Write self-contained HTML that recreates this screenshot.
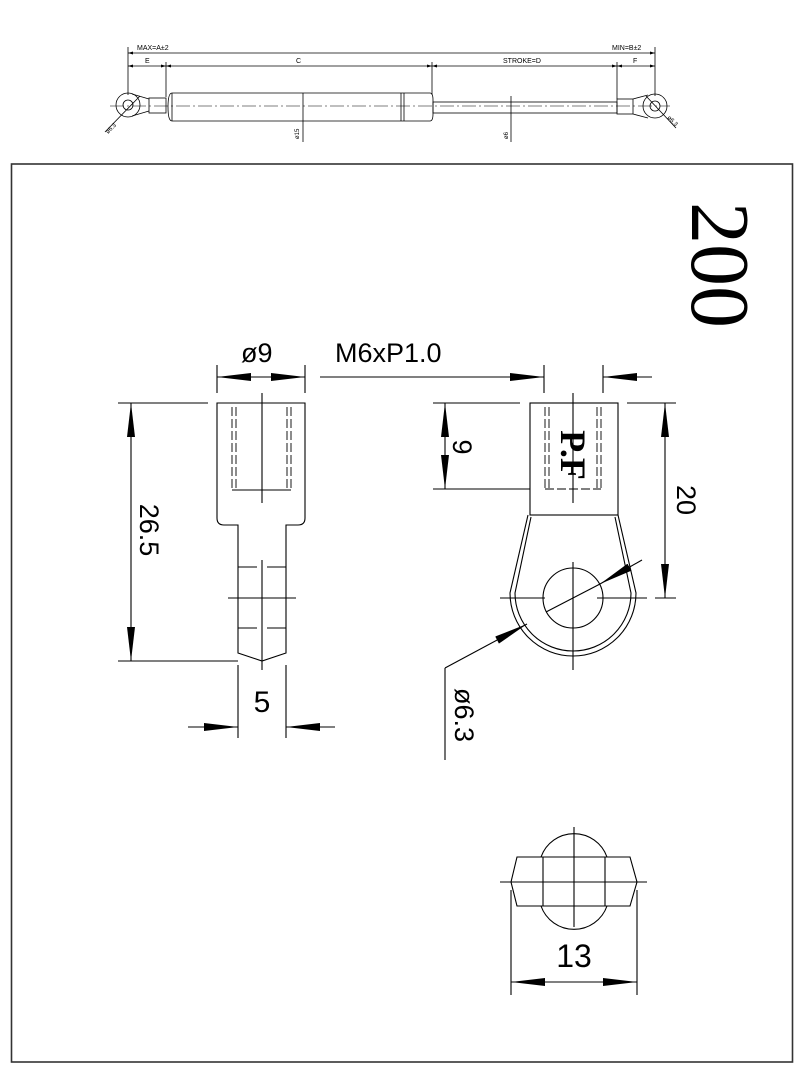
<!DOCTYPE html>
<html><head><meta charset="utf-8"><style>
html,body{margin:0;padding:0;background:#fff;}
svg{display:block;}
text{fill:#000;}
</style></head><body>
<svg width="800" height="1092" viewBox="0 0 800 1092" xmlns="http://www.w3.org/2000/svg" font-family="Liberation Sans, sans-serif">
<defs>
<marker id="s" markerWidth="5" markerHeight="3" refX="5" refY="1.5" orient="auto-start-reverse" markerUnits="userSpaceOnUse"><path d="M0,0 L5,1.5 L0,3 Z" fill="#000"/></marker>
<marker id="b" markerWidth="34" markerHeight="8" refX="34" refY="4" orient="auto-start-reverse" markerUnits="userSpaceOnUse"><path d="M0,0 L34,4 L0,8 Z" fill="#000"/></marker>
</defs>
<g stroke="#000" fill="none" stroke-width="0.8">
<line x1="128" y1="47" x2="128" y2="95"/><line x1="166" y1="62" x2="166" y2="97"/>
<line x1="432" y1="62" x2="432" y2="95"/><line x1="617" y1="62" x2="617" y2="99"/>
<line x1="655" y1="47" x2="655" y2="96"/>
<line x1="128" y1="53" x2="655" y2="53" marker-start="url(#s)" marker-end="url(#s)"/>
<line x1="128" y1="66" x2="166" y2="66" marker-start="url(#s)" marker-end="url(#s)"/>
<line x1="166" y1="66" x2="432" y2="66" marker-start="url(#s)" marker-end="url(#s)"/>
<line x1="432" y1="66" x2="617" y2="66" marker-start="url(#s)" marker-end="url(#s)"/>
<line x1="617" y1="66" x2="655" y2="66" marker-start="url(#s)" marker-end="url(#s)"/>
<circle cx="128" cy="105" r="12"/><circle cx="128" cy="105" r="5"/>
<path d="M132,94 L149,99 M132,116 L149,111"/>
<rect x="149" y="98" width="17" height="15"/>
<path d="M172,93 L430,93 Q433,93 433,100 L433,114 Q433,121 430,121 L172,121 Q168,121 168,107 Q168,93 172,93 Z"/>
<line x1="172" y1="93" x2="172" y2="121"/>
<line x1="401" y1="93" x2="401" y2="121"/><line x1="404" y1="93" x2="404" y2="121"/>
<rect x="433" y="102" width="184" height="11"/>
<rect x="617" y="99" width="16" height="15"/>
<path d="M633,99 L648,95 M633,114 L648,118"/>
<circle cx="655" cy="106" r="12"/><circle cx="655" cy="106" r="5"/>
<line x1="110" y1="106" x2="670" y2="106" stroke-dasharray="14,3,2,3" stroke-width="0.6"/>
<line x1="303" y1="93" x2="303" y2="142"/><line x1="511" y1="96" x2="511" y2="142"/>
<line x1="105" y1="132" x2="140" y2="96"/><line x1="676" y1="128" x2="646" y2="96"/>
<rect x="11.5" y="164" width="781" height="898" stroke-width="1.6" stroke="#333"/>
</g>
<g font-size="7">
<text x="137" y="50">MAX=A±2</text><text x="612" y="50">MIN=B±2</text>
<text x="145" y="63">E</text><text x="296" y="63">C</text><text x="503" y="63">STROKE=D</text><text x="633" y="63">F</text>
<text transform="translate(299,139) rotate(-90)" font-size="6">ø15</text>
<text transform="translate(508,139) rotate(-90)" font-size="6">ø6</text>
<text transform="translate(108,134) rotate(-45)" font-size="6">ø6.3</text>
<text transform="translate(667,118) rotate(45)" font-size="6">ø6.3</text>
</g>

<g stroke="#000" fill="none" stroke-width="1.1">
<line x1="217" y1="365" x2="217" y2="393"/><line x1="305" y1="365" x2="305" y2="393"/>
<line x1="217" y1="377" x2="305" y2="377" marker-start="url(#b)" marker-end="url(#b)"/>
<path d="M217,403 L305,403 L305,518 Q305,525 298,525 L286,525 L286,653 L262,661 L238,653 L238,525 L224,525 Q217,525 217,518 Z"/>
<g stroke-dasharray="9,3" stroke-width="0.9"><line x1="232" y1="407" x2="232" y2="490"/><line x1="236" y1="407" x2="236" y2="490"/><line x1="287" y1="407" x2="287" y2="490"/><line x1="291" y1="407" x2="291" y2="490"/></g>
<line x1="232" y1="490" x2="291" y2="490"/>
<line x1="262" y1="393" x2="262" y2="503"/>
<line x1="238" y1="567" x2="257" y2="567"/><line x1="267" y1="567" x2="286" y2="567"/>
<line x1="228" y1="598" x2="296" y2="598"/>
<line x1="238" y1="628" x2="257" y2="628"/><line x1="267" y1="628" x2="286" y2="628"/>
<line x1="262" y1="560" x2="262" y2="670"/>
<line x1="118" y1="403" x2="208" y2="403"/><line x1="118" y1="661" x2="238" y2="661"/>
<line x1="131" y1="403" x2="131" y2="661" marker-start="url(#b)" marker-end="url(#b)"/>
<line x1="238" y1="665" x2="238" y2="738"/><line x1="286" y1="665" x2="286" y2="738"/>
<line x1="188" y1="727" x2="238" y2="727" marker-end="url(#b)"/>
<line x1="335" y1="727" x2="286" y2="727" marker-end="url(#b)"/>
<line x1="320" y1="377" x2="544" y2="377" marker-end="url(#b)"/>
<line x1="652" y1="377" x2="603" y2="377" marker-end="url(#b)"/>
<line x1="544" y1="365" x2="544" y2="393"/><line x1="603" y1="365" x2="603" y2="393"/>
<rect x="530" y="403" width="88" height="112"/>
<g stroke-dasharray="9,3" stroke-width="0.9"><line x1="545" y1="407" x2="545" y2="490"/><line x1="549" y1="407" x2="549" y2="490"/><line x1="597" y1="407" x2="597" y2="490"/><line x1="601" y1="407" x2="601" y2="490"/><line x1="545" y1="489" x2="601" y2="489"/></g>
<line x1="573" y1="393" x2="573" y2="503"/>
<path d="M528,515 L510,593 A63,63 0 1 0 636,593 L618,515"/>
<path d="M531,517 L515,593 A58,58 0 1 0 631,593 L615,517"/>
<circle cx="573" cy="598" r="30"/>
<line x1="500" y1="598" x2="545" y2="598"/><line x1="597" y1="598" x2="647" y2="598"/>
<line x1="573" y1="562" x2="573" y2="670"/>
<line x1="642" y1="560" x2="600" y2="584" marker-end="url(#b)"/>
<line x1="600" y1="584" x2="546" y2="612"/>
<line x1="445" y1="668" x2="527" y2="624" marker-end="url(#b)"/>
<line x1="445" y1="668" x2="445" y2="760"/>
<line x1="433" y1="403" x2="520" y2="403"/><line x1="433" y1="489" x2="530" y2="489"/>
<line x1="445" y1="403" x2="445" y2="489" marker-start="url(#b)" marker-end="url(#b)"/>
<line x1="627" y1="403" x2="676" y2="403"/><line x1="655" y1="598" x2="676" y2="598"/>
<line x1="665" y1="403" x2="665" y2="598" marker-start="url(#b)" marker-end="url(#b)"/>
<path d="M541,857 A35,35 0 0 1 607,857"/><path d="M541,906 A35,35 0 0 0 607,906"/>
<path d="M517,857 L630,857 L637,882 L630,906 L517,906 L511,882 Z"/>
<line x1="543" y1="857" x2="543" y2="906"/><line x1="605" y1="857" x2="605" y2="906"/>
<line x1="500" y1="882" x2="647" y2="882"/><line x1="574" y1="827" x2="574" y2="927"/>
<line x1="511" y1="890" x2="511" y2="995"/><line x1="637" y1="890" x2="637" y2="995"/>
<line x1="511" y1="982" x2="637" y2="982" marker-start="url(#b)" marker-end="url(#b)"/>
</g>
<g font-size="27">
<text x="241" y="362">ø9</text>
<text x="335" y="362">M6xP1.0</text>
<text transform="translate(140,530) rotate(90)" text-anchor="middle">26.5</text>
<text x="262" y="712" text-anchor="middle" font-size="30">5</text>
<text transform="translate(453,447) rotate(90)" text-anchor="middle">9</text>
<text transform="translate(677,500) rotate(90)" text-anchor="middle">20</text>
<text transform="translate(455,715) rotate(90)" text-anchor="middle">ø6.3</text>
<text x="574" y="967" text-anchor="middle" font-size="32">13</text>
</g>
<text transform="translate(561,455) rotate(90)" text-anchor="middle" style="font-family:'Liberation Serif',serif;font-weight:bold;font-size:36px">P.F</text>
<text transform="translate(692,265) rotate(90)" text-anchor="middle" style="font-family:'Liberation Serif',serif;font-size:84px">200</text>
</svg>
</body></html>
